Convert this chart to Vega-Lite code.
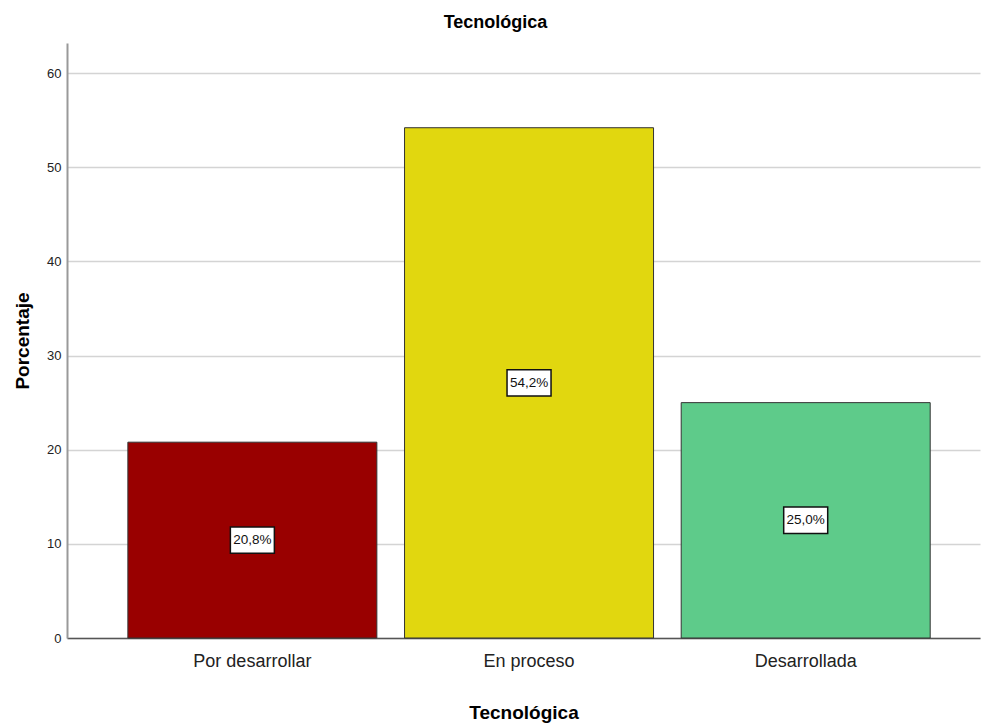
{
  "$schema": "https://vega.github.io/schema/vega-lite/v6.json",
  "autosize": {"type": "none"},
  "width": 913,
  "height": 595,
  "padding": {"left": 67, "top": 43, "right": 1, "bottom": 88},
  "background": "white",
  "config": {"view": {"stroke": null}, "font": "Liberation Sans"},
  "title": {"text": "Tecnológica", "fontSize": 18, "fontWeight": "bold", "color": "#000", "anchor": "middle", "dx": -28, "offset": 11, "font": "Liberation Sans"},
  "data": {"values": [
    {"cat": "Por desarrollar", "pct": 20.8, "label": "20,8%"},
    {"cat": "En proceso", "pct": 54.2, "label": "54,2%"},
    {"cat": "Desarrollada", "pct": 25.0, "label": "25,0%"}
  ]},
  "encoding": {
    "x": {"field": "cat", "type": "nominal", "sort": null,
      "scale": {"paddingInner": 0.1, "paddingOuter": 0.2, "align": 0.55},
      "axis": {"title": "Tecnológica", "titleFontSize": 19, "titleFontWeight": "bold", "titleColor": "#000", "titlePadding": 33,
        "labelAngle": 0, "labelFontSize": 18, "labelColor": "#222", "labelPadding": 14, "ticks": false,
        "domainColor": "#555", "domainWidth": 1.5}}
  },
  "layer": [
    {
      "mark": {"type": "bar", "stroke": "#333", "strokeWidth": 1},
      "encoding": {
        "y": {"field": "pct", "type": "quantitative",
          "scale": {"domain": [0, 63.2], "nice": false},
          "axis": {"title": "Porcentaje", "titleFontSize": 19, "titleFontWeight": "bold", "titleColor": "#000", "titlePadding": 14,
            "values": [0, 10, 20, 30, 40, 50, 60], "labelFontSize": 13, "labelColor": "#222", "labelPadding": 6, "ticks": false,
            "grid": true, "gridColor": "#d4d4d4", "gridWidth": 1.5, "domainColor": "#999", "domainWidth": 2}},
        "color": {"field": "cat", "type": "nominal", "legend": null,
          "scale": {"domain": ["Por desarrollar", "En proceso", "Desarrollada"], "range": ["#990000", "#e1d70f", "#5ecb8a"]}}
      }
    },
    {
      "transform": [{"calculate": "datum.pct / 2", "as": "mid"}],
      "mark": {"type": "point", "shape": "M-1,-0.6H1V0.6H-1Z", "size": 1936, "filled": true, "fill": "white", "stroke": "#111", "strokeWidth": 1.5, "opacity": 1},
      "encoding": {"y": {"field": "mid", "type": "quantitative", "scale": {"domain": [0, 63.2], "nice": false}}}
    },
    {
      "transform": [{"calculate": "datum.pct / 2", "as": "mid"}],
      "mark": {"type": "text", "fontSize": 13.5, "color": "#111", "baseline": "middle"},
      "encoding": {"y": {"field": "mid", "type": "quantitative", "scale": {"domain": [0, 63.2], "nice": false}}, "text": {"field": "label"}}
    }
  ]
}
